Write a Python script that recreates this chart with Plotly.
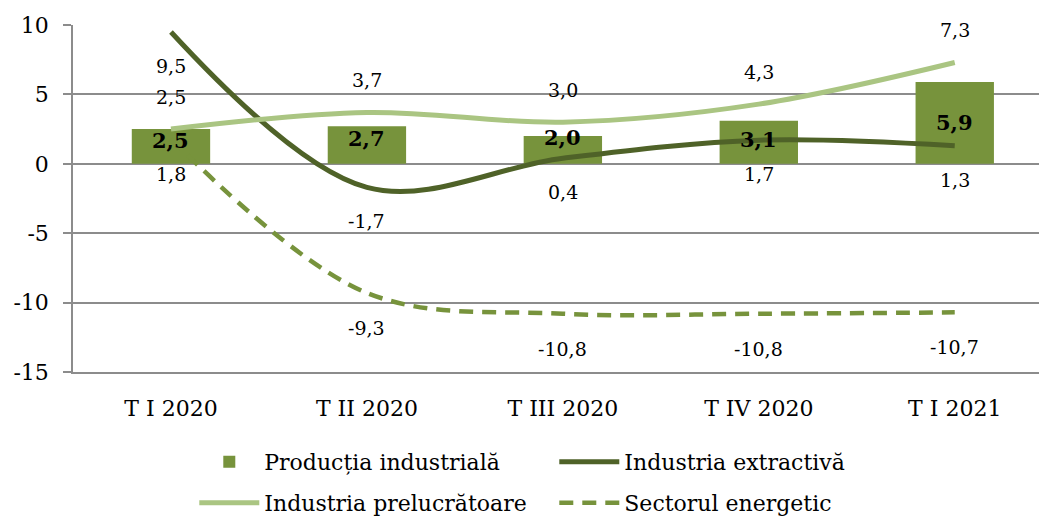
import plotly.graph_objects as go

categories = ["T I 2020", "T II 2020", "T III 2020", "T IV 2020", "T I 2021"]
productia = [2.5, 2.7, 2.0, 3.1, 5.9]
extractiva = [9.5, -1.7, 0.4, 1.7, 1.3]
prelucratoare = [2.5, 3.7, 3.0, 4.3, 7.3]
energetic = [1.8, -9.3, -10.8, -10.8, -10.7]
y_tick_vals = [-15, -10, -5, 0, 5, 10]
y_tick_text = ["-15", "-10", "-5", "0", "5", "10"]

C_BAR = "#77933C"
C_EXT = "#4F6228"
C_PRE = "#AAC582"
C_EN = "#77933C"
GRID = "#8C8C8C"
FONT = "DejaVu Serif"


def fmt(v):
    return f"{v:.1f}".replace(".", ",")


xs = list(range(len(categories)))

fig = go.Figure()
fig.add_trace(go.Bar(x=xs, y=productia, name="Producția industrială", legend="legend",
                     marker=dict(color=C_BAR, line=dict(width=0))))
fig.add_trace(go.Scatter(x=xs, y=extractiva, name="Industria extractivă", mode="lines",
                         legend="legend",
                         line=dict(color=C_EXT, width=5, shape="spline", smoothing=1)))
fig.add_trace(go.Scatter(x=xs, y=prelucratoare, name="Industria prelucrătoare", mode="lines",
                         legend="legend2",
                         line=dict(color=C_PRE, width=5, shape="spline", smoothing=1)))
fig.add_trace(go.Scatter(x=xs, y=energetic, name="Sectorul energetic", mode="lines",
                         legend="legend2",
                         line=dict(color=C_EN, width=4.5, shape="spline", smoothing=1,
                                   dash="14px,9px")))

ann = []
bar_shift = [6, 7, 12, 3, 0]
for i, v in enumerate(productia):
    ann.append(dict(x=i, y=v / 2, text=f"<b>{fmt(v)}</b>", showarrow=False,
                    yshift=bar_shift[i], font=dict(size=21, color="black", family=FONT)))
for i, v in enumerate(extractiva):
    ann.append(dict(x=i, y=v, text=fmt(v), showarrow=False, yshift=-34,
                    font=dict(size=19, color="black", family=FONT)))
for i, v in enumerate(prelucratoare):
    ann.append(dict(x=i, y=v, text=fmt(v), showarrow=False, yshift=32,
                    font=dict(size=19, color="black", family=FONT)))
for i, v in enumerate(energetic):
    ann.append(dict(x=i, y=v, text=fmt(v), showarrow=False, yshift=-35,
                    font=dict(size=19, color="black", family=FONT)))

legend_common = dict(orientation="h", xref="container", yref="container",
                     xanchor="left", yanchor="middle",
                     entrywidth=285, entrywidthmode="pixels",
                     font=dict(size=22, family=FONT), bgcolor="rgba(0,0,0,0)",
                     traceorder="normal", itemwidth=60)

xr = [-0.5, 4.43]
fig.update_layout(
    width=1039, height=519,
    margin=dict(l=73, r=0, t=25, b=147, autoexpand=False),
    plot_bgcolor="white", paper_bgcolor="white",
    bargap=0.6,
    font=dict(family=FONT, color="black", size=20),
    annotations=ann,
    xaxis=dict(range=xr, tickvals=xs, ticktext=categories, showgrid=False,
               zeroline=False, showline=True, linecolor=GRID, linewidth=1.5,
               automargin=False,
               ticks="", ticklabelstandoff=16, tickfont=dict(size=22, family=FONT)),
    xaxis2=dict(range=xr, overlaying="x", anchor="free", position=0.6,
                showgrid=False, zeroline=False, showline=True, linecolor=GRID,
                linewidth=1.5, ticks="outside", ticklen=6, tickcolor=GRID, tickwidth=1.5,
                automargin=False,
                tickvals=[0.5, 1.5, 2.5, 3.5], showticklabels=False),
    yaxis=dict(range=[-15, 10], tickvals=y_tick_vals, ticktext=y_tick_text,
               showgrid=True, gridcolor=GRID, gridwidth=1.5, zeroline=False,
               showline=True, linecolor=GRID, linewidth=1.5, automargin=False,
               ticks="outside", ticklen=8, tickcolor=GRID, tickwidth=1.5,
               ticklabelstandoff=10, tickfont=dict(size=22, family=FONT)),
    showlegend=True,
    legend=dict(x=0.187, y=0.11, **legend_common),
    legend2=dict(x=0.187, y=0.031, **legend_common),
)

fig.write_html("out.html", config={"displayModeBar": False},
               post_script="document.body.style.margin='0';document.body.style.overflow='hidden';")
